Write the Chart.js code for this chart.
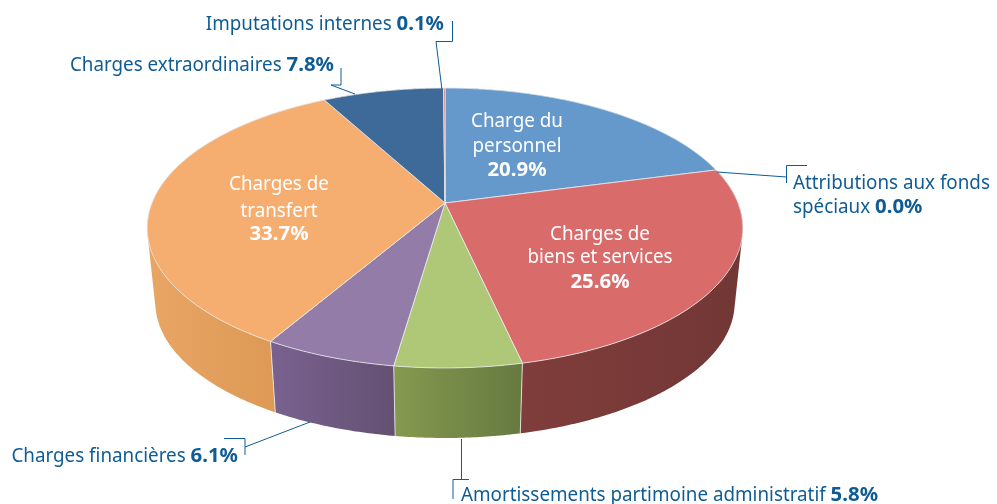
<!DOCTYPE html>
<html>
<head>
<meta charset="utf-8">
<style>
  html, body { margin: 0; padding: 0; background: #fff; }
  #wrap { width: 997px; height: 504px; position: relative; }
</style>
<script src="https://cdn.jsdelivr.net/npm/chart.js@4/dist/chart.umd.js"></script>
</head>
<body>
<div id="wrap"><canvas id="graph" width="997" height="504"></canvas></div>
<script>
const categories = [
  "Charge du personnel",
  "Attributions aux fonds spéciaux",
  "Charges de biens et services",
  "Amortissements partimoine administratif",
  "Charges financières",
  "Charges de transfert",
  "Charges extraordinaires",
  "Imputations internes",
];
const values = [20.9, 0.0, 25.6, 5.8, 6.1, 33.7, 7.8, 0.1];
const topColors = ["#6699cb", "#d96b6b", "#d96b6b", "#aec878", "#937da8", "#f5ae70", "#3d6a98", "#c9625f"];
const wallLeft = ["#5a84b0", "#7f3d3b", "#7f3d3b", "#85994f", "#7a6290", "#e8a564", "#345b82", "#a55"];
const wallRight = ["#5a84b0", "#723735", "#723735", "#667a41", "#635072", "#d9944f", "#345b82", "#a55"];

const TEXT_BLUE = "#0f5c94";
const FONT = '"Noto Sans"';
const PLAIN_SQUEEZE = 0.94;
const BOLD_SQUEEZE = 1.02;

// perspective of the disc: top face and bottom face of the cylinder
const K = 0.1786;
const topFace = { cx: 445, cy: 203, b: 293, a: 135.5 };
const baseFace = { cx: 445, cy: 278.5, b: 285, a: 131 };

function project(face, angle) {
  const u = Math.cos(angle), v = Math.sin(angle);
  const w = 1 - K * v;
  return { x: face.cx + face.b * u / w, y: face.cy + face.a * v / w };
}

function arcPoints(face, from, to) {
  const steps = Math.max(2, Math.ceil((to - from) / 0.01));
  const pts = [];
  for (let i = 0; i <= steps; i++) {
    pts.push(project(face, from + (to - from) * i / steps));
  }
  return pts;
}

function quadArea(q) {
  let s = 0;
  q.forEach((p, n) => {
    const r = q[(n + 1) % q.length];
    s += p.x * r.y - r.x * p.y;
  });
  return s;
}

function drawWalls(ctx, arcs) {
  arcs.forEach((arc, i) => {
    if (arc.endAngle - arc.startAngle <= 0) return;
    const up = arcPoints(topFace, arc.startAngle, arc.endAngle);
    const low = arcPoints(baseFace, arc.startAngle, arc.endAngle);
    const xs = up.concat(low).map(p => p.x);
    const grad = ctx.createLinearGradient(Math.min(...xs), 0, Math.max(...xs), 0);
    grad.addColorStop(0, wallLeft[i]);
    grad.addColorStop(1, wallRight[i]);
    ctx.fillStyle = grad;
    // small quads in one path, all wound the same way so overlaps don't cancel
    ctx.beginPath();
    for (let n = 0; n < up.length - 1; n++) {
      const q = [up[n], up[n + 1], low[n + 1], low[n]];
      if (quadArea(q) < 0) q.reverse();
      q.forEach((p, m) => m ? ctx.lineTo(p.x, p.y) : ctx.moveTo(p.x, p.y));
      ctx.closePath();
    }
    ctx.fill();
  });
  // light seams between the front slices
  ctx.strokeStyle = "rgba(235,235,235,0.85)";
  ctx.lineWidth = 1;
  arcs.forEach(arc => {
    if (Math.sin(arc.endAngle) < 0.3) return;
    const a = project(topFace, arc.endAngle), b = project(baseFace, arc.endAngle);
    ctx.beginPath();
    ctx.moveTo(a.x, a.y);
    ctx.lineTo(b.x, b.y);
    ctx.stroke();
  });
}

function drawTop(ctx, arcs) {
  arcs.forEach((arc, i) => {
    if (arc.endAngle - arc.startAngle <= 0) return;
    const pts = arcPoints(topFace, arc.startAngle, arc.endAngle);
    ctx.beginPath();
    ctx.moveTo(topFace.cx, topFace.cy);
    pts.forEach(p => ctx.lineTo(p.x, p.y));
    ctx.closePath();
    ctx.fillStyle = topColors[i];
    ctx.fill();
    ctx.strokeStyle = "rgba(235,235,235,0.8)";
    ctx.lineWidth = 1;
    ctx.stroke();
  });
}

// one line of text, plain part then bold part, x is left / center / right
function textLine(ctx, plain, bold, x, y, size, color, align) {
  const normalFont = size + "px " + FONT;
  const boldFont = "bold " + size + "px " + FONT;
  ctx.font = normalFont;
  const w1 = ctx.measureText(plain).width * PLAIN_SQUEEZE;
  ctx.font = boldFont;
  const w2 = bold ? ctx.measureText(bold).width * BOLD_SQUEEZE : 0;
  let left = x;
  if (align === "center") left = x - (w1 + w2) / 2;
  if (align === "right") left = x - (w1 + w2);
  ctx.textAlign = "left";
  ctx.textBaseline = "alphabetic";
  ctx.fillStyle = color;
  ctx.save();
  ctx.translate(left, y);
  ctx.scale(PLAIN_SQUEEZE, 1);
  ctx.font = normalFont;
  ctx.fillText(plain, 0, 0);
  ctx.restore();
  if (bold) {
    ctx.save();
    ctx.translate(left + w1, y);
    ctx.scale(BOLD_SQUEEZE, 1);
    ctx.font = boldFont;
    ctx.fillText(bold, 0, 0);
    ctx.restore();
  }
}

function pct(i) {
  return values[i].toFixed(1) + "%";
}

function drawLabels(ctx) {
  const S = 20;
  // inside the slices
  textLine(ctx, "Charge du", "", 517, 127, S, "#fff", "center");
  textLine(ctx, "personnel", "", 517, 152, S, "#fff", "center");
  textLine(ctx, "", pct(0), 517, 176, S, "#fff", "center");
  textLine(ctx, "Charges de", "", 600, 240, S, "#fff", "center");
  textLine(ctx, "biens et services", "", 600, 263, S, "#fff", "center");
  textLine(ctx, "", pct(2), 600, 288, S, "#fff", "center");
  textLine(ctx, "Charges de", "", 279, 190, S, "#fff", "center");
  textLine(ctx, "transfert", "", 279, 217, S, "#fff", "center");
  textLine(ctx, "", pct(5), 279, 240, S, "#fff", "center");
  // outside
  textLine(ctx, categories[7] + " ", pct(7), 444, 30, S, TEXT_BLUE, "right");
  textLine(ctx, categories[6] + " ", pct(6), 334, 71, S, TEXT_BLUE, "right");
  textLine(ctx, "Attributions aux fonds", "", 793, 189, S, TEXT_BLUE, "left");
  textLine(ctx, "spéciaux ", pct(1), 793, 213, S, TEXT_BLUE, "left");
  textLine(ctx, categories[4] + " ", pct(4), 238, 462, S, TEXT_BLUE, "right");
  textLine(ctx, categories[3] + " ", pct(3), 461, 501, S, TEXT_BLUE, "left");
}

function drawLeaders(ctx) {
  const leaders = [
    [[442, 90], [436, 41.5], [452.5, 41.5], [452.5, 21]],
    [[355, 94], [331, 85], [341, 85], [341, 68]],
    [[717, 172], [786.5, 177]],
    [[786.5, 183], [786.5, 165.5], [807, 165.5]],
    [[310, 422], [245, 447]],
    [[224, 438.5], [245, 438.5], [245, 455]],
    [[461.5, 439], [461.5, 479]],
    [[469, 479.5], [453, 479.5], [453, 499]],
  ];
  ctx.strokeStyle = TEXT_BLUE;
  ctx.lineWidth = 1;
  leaders.forEach(pts => {
    ctx.beginPath();
    pts.forEach((p, n) => n ? ctx.lineTo(p[0], p[1]) : ctx.moveTo(p[0], p[1]));
    ctx.stroke();
  });
}

const perspectivePie = {
  id: "perspectivePie",
  beforeDatasetsDraw(chart) {
    const ctx = chart.ctx;
    const arcs = chart.getDatasetMeta(0).data;
    ctx.save();
    drawWalls(ctx, arcs);
    drawTop(ctx, arcs);
    drawLeaders(ctx);
    drawLabels(ctx);
    ctx.restore();
    return false;
  },
};

new Chart(document.getElementById("graph"), {
  type: "pie",
  data: {
    labels: categories,
    datasets: [{ data: values, backgroundColor: topColors }],
  },
  options: {
    responsive: false,
    animation: false,
    plugins: { legend: { display: false }, tooltip: { enabled: false } },
  },
  plugins: [perspectivePie],
});
</script>
</body>
</html>
